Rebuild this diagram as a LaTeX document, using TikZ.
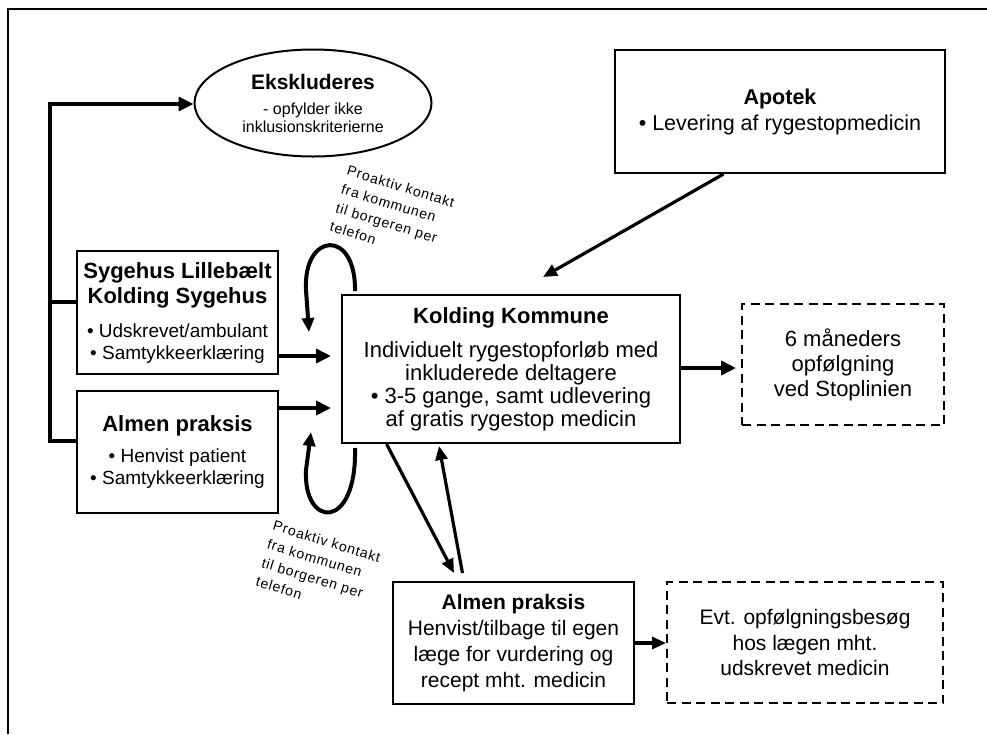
\documentclass[tikz,border=0pt]{standalone}
\usepackage{fontspec}
\setmainfont{Liberation Sans}
\newfontfamily\spacedfont[LetterSpace=6]{Liberation Sans}
\usetikzlibrary{arrows.meta,shapes.geometric,calc}
\begin{document}
\begin{tikzpicture}[x=1pt,y=-1pt,
  box/.style={draw, line width=2pt, inner sep=0pt, align=center},
  dbox/.style={box, line width=2.4pt, dash pattern=on 9pt off 5.5pt},
  conn/.style={line width=4pt, line join=miter, -{Triangle[length=15pt,width=14pt]}},
  thinconn/.style={line width=3.2pt, -{Triangle[length=14pt,width=12pt]}},
  loopconn/.style={line width=4pt, -{Triangle[length=14pt,width=12pt]}},
  lbl/.style={rotate=-17, align=left, inner sep=0pt, font=\spacedfont\fontsize{14}{19.5}\selectfont}]
\useasboundingbox (0,0) rectangle (987,734);
\fill[white] (0,0) rectangle (987,734);
\draw[line width=2pt] (8,734) -- (8,9) -- (987,9);

% nodes
\node[box, ellipse, minimum width=237pt, minimum height=107pt, font=\fontsize{16}{18}\selectfont] (ek) at (313,103)
  {{\fontsize{21}{25}\selectfont\bfseries Ekskluderes}\\[7pt] - opfylder ikke\\ inklusionskriterierne};

\node[box, minimum width=201pt, minimum height=123pt, font=\fontsize{22}{25}\selectfont] (sy) at (177.5,312.5)
  {\textbf{Sygehus Lillebælt}\\ \textbf{Kolding Sygehus}\\[9pt]
   {\fontsize{19}{22}\selectfont • Udskrevet/ambulant}\\[-3pt]
   {\fontsize{19}{22}\selectfont • Samtykkeerklæring}};

\node[box, minimum width=201pt, minimum height=122pt, font=\fontsize{22}{22}\selectfont] (al) at (177.5,452)
  {\textbf{Almen praksis}\\[9pt]
   {\fontsize{19}{22}\selectfont • Henvist patient}\\
   {\fontsize{19}{22}\selectfont • Samtykkeerklæring}};

\node[box, minimum width=338pt, minimum height=148pt, font=\fontsize{22}{23}\selectfont] (kk) at (511,369)
  {\textbf{Kolding Kommune}\\[11pt] Individuelt rygestopforløb med\\ inkluderede deltagere\\
   • 3-5 gange, samt udlevering\\ af gratis rygestop medicin};

\node[box, minimum width=330pt, minimum height=123pt, font=\fontsize{21.5}{26}\selectfont] (ap) at (780,111.5)
  {\textbf{Apotek}\\ • Levering af rygestopmedicin};

\node[dbox, minimum width=202pt, minimum height=121pt, font=\fontsize{22}{25}\selectfont] (sm) at (843,364.5)
  {6 måneders\\ opfølgning\\ ved Stoplinien};

\node[box, minimum width=241pt, minimum height=122pt, font=\fontsize{21}{26}\selectfont] (ab) at (513.5,643)
  {\textbf{Almen praksis}\\ Henvist/tilbage til egen\\ læge for vurdering og\\ recept mht. medicin};

\node[dbox, minimum width=276pt, minimum height=121pt, font=\fontsize{21}{25.5}\selectfont] (ev) at (805,642.5)
  {Evt. opfølgningsbesøg\\ hos lægen mht.\\ udskrevet medicin};

\node[lbl, anchor=north west] (l1) at (349,165) {Proaktiv kontakt\\ fra kommunen\\ til borgeren per\\ telefon};
\node[lbl, anchor=north west] (l2) at (275,520) {Proaktiv kontakt\\ fra kommunen\\ til borgeren per\\ telefon};

% bracket on the left
\coordinate (bt) at (50,104);
\coordinate (bm) at (50,302);
\coordinate (bb) at (50,441);
\draw[conn] (al.west |- bb) -- (bb) -- (bt) -- (ek.west |- bt);
\draw[line width=4pt] (bm) -- (sy.west |- bm);

% arrows into Kolding Kommune
\coordinate (t1) at (331,356);
\coordinate (t2) at (331,408);
\draw[conn] (sy.east |- t1) -- (t1);
\draw[conn] (al.east |- t2) -- (t2);

% to 6 maaneders
\coordinate (t3) at (736,368);
\draw[conn] (kk.east |- t3) -- (t3);

% Apotek to Kolding
\coordinate (t4) at (543,277);
\draw[thinconn] ($(ap.south west)!0.33!(ap.south east)$) -- (t4);

% Kolding <-> Almen praksis (bottom)
\coordinate (t5) at (454,573);
\draw[thinconn] ($(kk.south west)!0.134!(kk.south east)$) -- (t5);
\coordinate (t6) at (439,446);
\draw[thinconn] ($(ab.north west)!0.29!(ab.north east)+(0,-8)$) -- (t6);

% Almen praksis to Evt
\coordinate (t7) at (666,643);
\draw[thinconn] (ab.east |- t7) -- (t7);

% loops
\coordinate (la) at ($(kk.north west)+(14,-3)$);
\coordinate (lb) at (309,332);
\draw[loopconn] (la) .. controls (356,228) and (303,232) .. (306,290) -- (lb);
\coordinate (lc) at ($(kk.south west)+(14,4)$);
\coordinate (ld) at (311,432);
\draw[loopconn] (lc) .. controls (357,532) and (303,528) .. (306,470) -- (ld);
\end{tikzpicture}
\end{document}
